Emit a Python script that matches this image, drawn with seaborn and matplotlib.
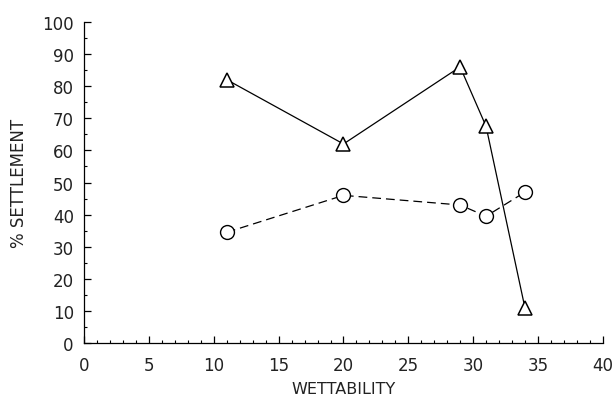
import numpy as np
import pandas as pd
import matplotlib
matplotlib.use("Agg")
import matplotlib.pyplot as plt
from matplotlib.ticker import MultipleLocator
import seaborn as sns

# Données
wettability = [11, 20, 29, 31, 34]
settle_triangle = [82, 62, 86, 67.5, 11]
settle_circle = [34.5, 46, 43, 39.5, 47]

df_tri = pd.DataFrame({"x": wettability, "y": settle_triangle})
df_circ = pd.DataFrame({"x": wettability, "y": settle_circle})

sns.set_style("ticks")
plt.rcParams["font.family"] = ["DejaVu Sans"]

fig = plt.figure(figsize=(6.15, 4.02), dpi=100)
ax = fig.add_axes([0.137, 0.144, 0.843, 0.799])

sns.lineplot(data=df_tri, x="x", y="y", ax=ax, color="black", lw=0.9,
             marker="^", markersize=10, markerfacecolor="white",
             markeredgecolor="black", markeredgewidth=1.1)
sns.lineplot(data=df_circ, x="x", y="y", ax=ax, color="black", lw=0.9,
             linestyle=(0, (7, 4)), marker="o", markersize=10,
             markerfacecolor="white", markeredgecolor="black",
             markeredgewidth=1.0)

ax.set_xlim(0, 40)
ax.set_ylim(0, 100)
ax.xaxis.set_major_locator(MultipleLocator(5))
ax.xaxis.set_minor_locator(MultipleLocator(1))
ax.yaxis.set_major_locator(MultipleLocator(10))
ax.yaxis.set_minor_locator(MultipleLocator(5))
ax.tick_params(which="both", direction="in", colors="black", labelsize=12,
               labelcolor="#222222")
ax.tick_params(which="major", length=5, width=0.9)
ax.tick_params(which="minor", length=2.5, width=0.8)
ax.tick_params(axis="x", pad=9)
ax.tick_params(axis="y", pad=7.5)

for side in ["top", "right"]:
    ax.spines[side].set_visible(False)
for side in ["left", "bottom"]:
    ax.spines[side].set_linewidth(0.9)
    ax.spines[side].set_color("black")

ax.set_xlabel("WETTABILITY", fontsize=11.5, color="#222222", labelpad=5)
ax.set_ylabel("% SETTLEMENT", fontsize=12, color="#222222", labelpad=10)

fig.savefig("out.png", dpi=100)
plt.close(fig)
